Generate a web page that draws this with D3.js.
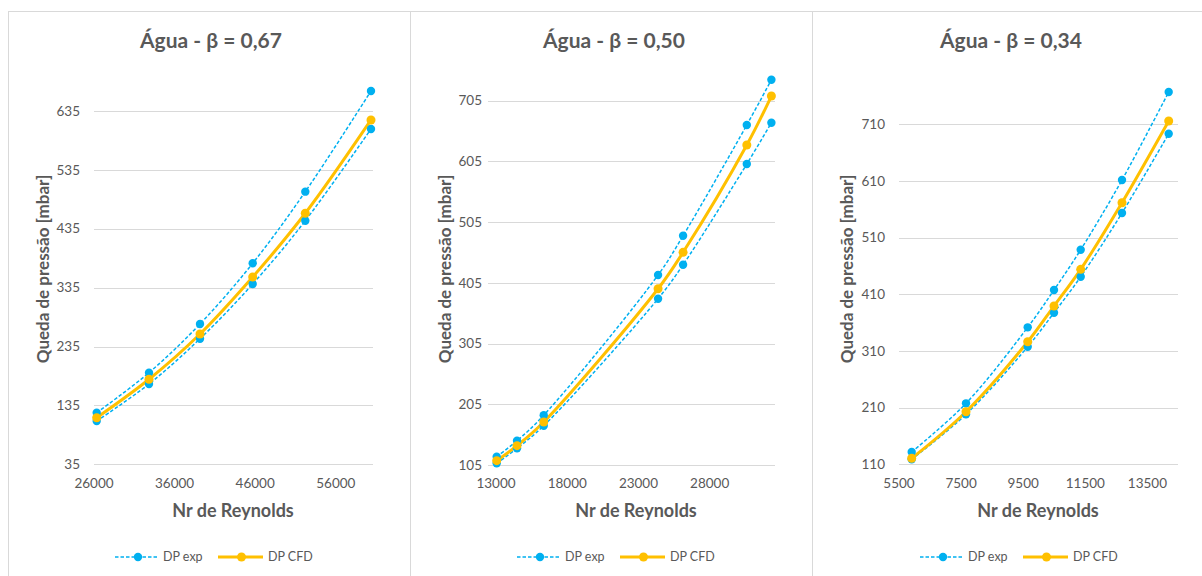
<!DOCTYPE html>
<html>
<head>
<meta charset="utf-8">
<script src="https://cdn.jsdelivr.net/npm/d3@7"></script>
<style>
  html, body { margin: 0; padding: 0; background: #ffffff; }
  svg { display: block; }
  text { font-family: Lato, "Open Sans", sans-serif; fill: #595959; }
</style>
</head>
<body>
<svg id="chart" width="1202" height="576"></svg>
<script>
// ---- data -------------------------------------------------------------
const panelTitles = ["Água - β = 0,67", "Água - β = 0,50", "Água - β = 0,34"];
const yAxisTitle = "Queda de pressão [mbar]";
const xAxisTitle = "Nr de Reynolds";
const legendNames = ["DP exp", "DP CFD"];

// β = 0,67
const reynolds067 = [26335, 32824, 39151, 45690, 52216, 60367];
const expHigh067 = [122.6, 190.6, 273.3, 376.4, 498.0, 669.0];
const expLow067 = [108.5, 171.4, 248.3, 341.2, 448.7, 604.5];
const cfd067 = [114.1, 179.4, 256.3, 353.1, 461.3, 619.8];
const xTicks067 = [26000, 36000, 46000, 56000];
const yTicks067 = [35, 135, 235, 335, 435, 535, 635];

// β = 0,50
const reynolds050 = [13049, 14475, 16350, 24376, 26132, 30604, 32331];
const expHigh050 = [118.7, 145.0, 186.9, 417.9, 482.6, 665.0, 739.5];
const expLow050 = [107.8, 132.5, 169.7, 378.9, 434.9, 600.7, 668.7];
const cfd050 = [112.1, 136.8, 175.8, 395.3, 455.3, 632.0, 712.7];
const xTicks050 = [13000, 18000, 23000, 28000];
const yTicks050 = [105, 205, 305, 405, 505, 605, 705];

// β = 0,34
const reynolds034 = [5909, 7658, 9645, 10492, 11352, 12682, 14186];
const expHigh034 = [131.7, 217.6, 351.7, 417.6, 488.7, 611.7, 767.0];
const expLow034 = [118.8, 198.2, 317.5, 377.5, 441.0, 553.5, 693.4];
const cfd034 = [120.6, 202.8, 326.3, 389.3, 454.1, 571.6, 715.8];
const xTicks034 = [5500, 7500, 9500, 11500, 13500];
const yTicks034 = [110, 210, 310, 410, 510, 610, 710];

// ---- layout -----------------------------------------------------------
const panels = [
  { title: panelTitles[0], re: reynolds067, high: expHigh067, low: expLow067, cfd: cfd067,
    xTicks: xTicks067, yTicks: yTicks067,
    box: [8, 410], plotX: [94, 373], xPix: [94, 335.8], yPix: [464.3, 111],
    yLabelRight: 80, yTitleX: 43, xTitleX: 233, titleX: 211, legendX: 115 },
  { title: panelTitles[1], re: reynolds050, high: expHigh050, low: expLow050, cfd: cfd050,
    xTicks: xTicks050, yTicks: yTicks050,
    box: [410, 812], plotX: [488, 775], xPix: [496, 709.7], yPix: [465, 100.7],
    yLabelRight: 482, yTitleX: 445, xTitleX: 636, titleX: 614, legendX: 517 },
  { title: panelTitles[2], re: reynolds034, high: expHigh034, low: expLow034, cfd: cfd034,
    xTicks: xTicks034, yTicks: yTicks034,
    box: [812, 1210], plotX: [899, 1178], xPix: [899, 1147.4], yPix: [464.3, 124.3],
    yLabelRight: 885, yTitleX: 847, xTitleX: 1038, titleX: 1011, legendX: 920 }
];

const expColor = "#00b0f0";
const cfdColor = "#ffc000";
const gridColor = "#d9d9d9";

const svg = d3.select("#chart");

panels.forEach(p => {
  const g = svg.append("g");

  // panel frame
  g.append("rect")
    .attr("x", p.box[0] + 0.5).attr("y", 11.5)
    .attr("width", p.box[1] - p.box[0]).attr("height", 600)
    .attr("fill", "#ffffff").attr("stroke", gridColor).attr("stroke-width", 1);

  const x = d3.scaleLinear()
    .domain([p.xTicks[0], p.xTicks[p.xTicks.length - 1]])
    .range(p.xPix);
  const y = d3.scaleLinear()
    .domain([p.yTicks[0], p.yTicks[p.yTicks.length - 1]])
    .range(p.yPix);

  // horizontal gridlines
  g.append("g").selectAll("line").data(p.yTicks).join("line")
    .attr("x1", p.plotX[0]).attr("x2", p.plotX[1])
    .attr("y1", d => Math.round(y(d)) + 0.5).attr("y2", d => Math.round(y(d)) + 0.5)
    .attr("stroke", gridColor).attr("stroke-width", 1);

  // y tick labels
  g.append("g").selectAll("text").data(p.yTicks).join("text")
    .attr("x", p.yLabelRight).attr("y", d => y(d))
    .attr("dy", "0.35em").attr("text-anchor", "end")
    .attr("font-size", 13.5)
    .text(d => d);

  // x tick labels
  g.append("g").selectAll("text").data(p.xTicks).join("text")
    .attr("x", d => x(d)).attr("y", 488)
    .attr("text-anchor", "middle")
    .attr("font-size", 13.5)
    .text(d => d);

  // titles
  g.append("text")
    .attr("x", p.titleX).attr("y", 48)
    .attr("text-anchor", "middle").attr("font-size", 21).attr("font-weight", 700)
    .text(p.title);

  g.append("text")
    .attr("transform", `translate(${p.yTitleX + 6},${269}) rotate(-90)`)
    .attr("text-anchor", "middle").attr("font-size", 17).attr("font-weight", 700)
    .text(yAxisTitle);

  g.append("text")
    .attr("x", p.xTitleX).attr("y", 517)
    .attr("text-anchor", "middle").attr("font-size", 18).attr("font-weight", 700)
    .text(xAxisTitle);

  // series
  const line = d3.line()
    .x(d => x(d[0])).y(d => y(d[1]))
    .curve(d3.curveCatmullRom.alpha(0.5));

  const high = p.re.map((r, i) => [r, p.high[i]]);
  const low = p.re.map((r, i) => [r, p.low[i]]);
  const cfd = p.re.map((r, i) => [r, p.cfd[i]]);

  [high, low].forEach(s => {
    g.append("path").datum(s).attr("d", line)
      .attr("fill", "none").attr("stroke", expColor)
      .attr("stroke-width", 1.5).attr("stroke-dasharray", "3.5,2");
  });

  g.append("path").datum(cfd).attr("d", line)
    .attr("fill", "none").attr("stroke", cfdColor)
    .attr("stroke-width", 3).attr("stroke-linejoin", "round");

  [high, low].forEach(s => {
    g.append("g").selectAll("circle").data(s).join("circle")
      .attr("cx", d => x(d[0])).attr("cy", d => y(d[1]))
      .attr("r", 4.2).attr("fill", expColor);
  });
  g.append("g").selectAll("circle").data(cfd).join("circle")
    .attr("cx", d => x(d[0])).attr("cy", d => y(d[1]))
    .attr("r", 4.5).attr("fill", cfdColor);

  // legend
  const ly = 557;
  const lg = g.append("g");
  lg.append("line")
    .attr("x1", p.legendX).attr("x2", p.legendX + 43).attr("y1", ly).attr("y2", ly)
    .attr("stroke", expColor).attr("stroke-width", 1.5).attr("stroke-dasharray", "3.5,2");
  lg.append("circle").attr("cx", p.legendX + 23).attr("cy", ly).attr("r", 4.2).attr("fill", expColor);
  lg.append("text").attr("x", p.legendX + 48).attr("y", ly).attr("dy", "0.35em")
    .attr("font-size", 12.5).text(legendNames[0]);

  lg.append("line")
    .attr("x1", p.legendX + 103).attr("x2", p.legendX + 148).attr("y1", ly).attr("y2", ly)
    .attr("stroke", cfdColor).attr("stroke-width", 3);
  lg.append("circle").attr("cx", p.legendX + 126.5).attr("cy", ly).attr("r", 4.5).attr("fill", cfdColor);
  lg.append("text").attr("x", p.legendX + 153).attr("y", ly).attr("dy", "0.35em")
    .attr("font-size", 12.5).text(legendNames[1]);
});
</script>
</body>
</html>
